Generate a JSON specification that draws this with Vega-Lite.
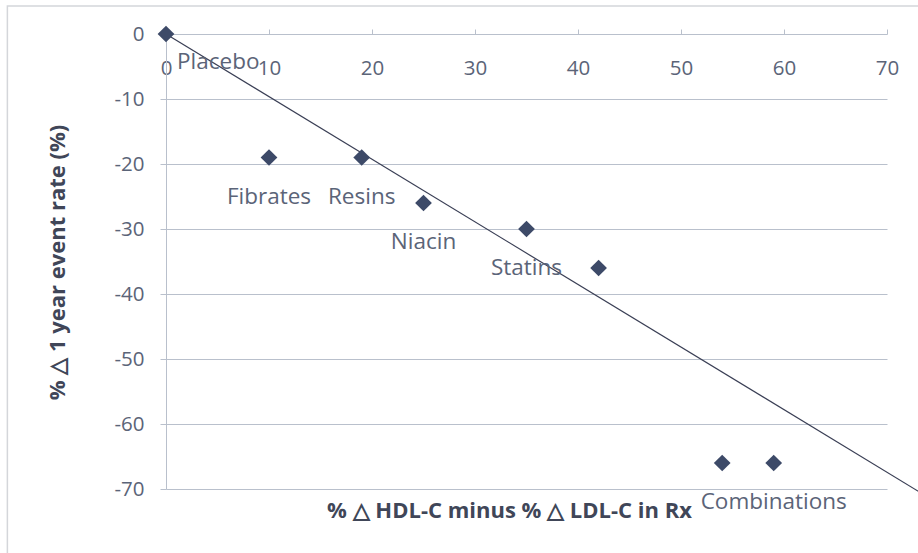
{
  "$schema": "https://vega.github.io/schema/vega-lite/v6.json",
  "width": 721,
  "height": 455,
  "autosize": "none",
  "padding": {"left": 166, "top": 34, "right": 31, "bottom": 64},
  "background": "white",
  "config": {"view": {"stroke": null}, "font": "Open Sans"},
  "datasets": {
    "pts": [
      {"group": "Placebo", "x": 0, "y": 0, "label": "Placebo"},
      {"group": "Fibrates", "x": 10, "y": -19, "label": "Fibrates"},
      {"group": "Resins", "x": 19, "y": -19, "label": "Resins"},
      {"group": "Niacin", "x": 25, "y": -26, "label": "Niacin"},
      {"group": "Statins", "x": 35, "y": -30, "label": "Statins"},
      {"group": "Statins", "x": 42, "y": -36, "label": ""},
      {"group": "Combinations", "x": 54, "y": -66, "label": ""},
      {"group": "Combinations", "x": 59, "y": -66, "label": "Combinations"}
    ],
    "trend": [
      {"x": 0, "y": 0},
      {"x": 73.6, "y": -70.9}
    ],
    "frame": [
      {"x": -15.4, "y": 4.3, "xe": 80, "ye": -95}
    ]
  },
  "encoding": {
    "x": {
      "field": "x", "type": "quantitative",
      "scale": {"domain": [0, 70], "nice": false, "zero": false},
      "axis": {
        "orient": "top", "domain": false, "grid": false,
        "ticks": true, "tickSize": 5, "tickColor": "#b9c0cc",
        "values": [0, 10, 20, 30, 40, 50, 60, 70],
        "labelPadding": -39, "labelBaseline": "middle", "labelFlush": false, "labelOverlap": false,
        "labelFontSize": 20.5, "labelColor": "#5b6478", "labelFont": "Open Sans",
        "title": "% △ HDL-C minus % △ LDL-C in Rx",
        "titleFont": "Open Sans", "titleFontWeight": "bold", "titleFontSize": 22, "titleColor": "#404658",
        "titleX": 343, "titleY": 476, "titleBaseline": "middle", "titleAlign": "center"
      }
    },
    "y": {
      "field": "y", "type": "quantitative",
      "scale": {"domain": [-70, 0], "nice": false, "zero": false},
      "axis": {
        "orient": "left", "grid": true, "gridColor": "#b9c0cc",
        "domain": true, "domainColor": "#b9c0cc",
        "ticks": true, "tickSize": 6, "tickColor": "#b9c0cc",
        "values": [-70, -60, -50, -40, -30, -20, -10, 0],
        "labelExpr": "datum.value == 0 ? '0' : '-' + abs(datum.value)",
        "labelPadding": 16, "labelFontSize": 20.5, "labelColor": "#5b6478", "labelFont": "Open Sans",
        "title": "% △ 1 year event rate (%)",
        "titleFont": "Open Sans", "titleFontWeight": "bold", "titleFontSize": 22, "titleColor": "#404658",
        "titleX": -109, "titleY": 228, "titleAngle": -90, "titleBaseline": "middle", "titleAlign": "center"
      }
    }
  },
  "layer": [
    {
      "data": {"name": "frame"},
      "mark": {"type": "rect", "fill": null, "stroke": "#d4d6da", "strokeWidth": 1.5, "clip": false},
      "encoding": {"x2": {"field": "xe"}, "y2": {"field": "ye"}}
    },
    {
      "data": {"name": "trend"},
      "mark": {"type": "line", "color": "#3a3f55", "strokeWidth": 1.2, "clip": false},
      "encoding": {}
    },
    {
      "data": {"name": "pts"},
      "mark": {"type": "point", "shape": "diamond", "filled": true, "size": 280, "color": "#3d4a68", "opacity": 1}
    },
    {
      "data": {"name": "pts"},
      "transform": [{"filter": "datum.label != '' && datum.label != 'Placebo'"}],
      "mark": {"type": "text", "dy": 39, "align": "center", "baseline": "middle", "fontSize": 22.5, "font": "Open Sans", "color": "#5b6478"},
      "encoding": {"text": {"field": "label"}}
    },
    {
      "data": {"name": "pts"},
      "transform": [{"filter": "datum.label == 'Placebo'"}],
      "mark": {"type": "text", "dx": 11, "dy": 28, "align": "left", "baseline": "middle", "fontSize": 22.5, "font": "Open Sans", "color": "#5b6478"},
      "encoding": {"text": {"field": "label"}}
    }
  ]
}
